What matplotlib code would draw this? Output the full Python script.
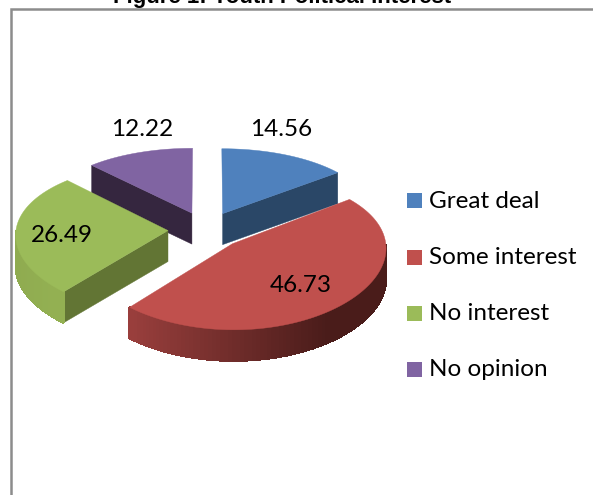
import numpy as np
import matplotlib
matplotlib.use("Agg")
import matplotlib.pyplot as plt
from matplotlib.patches import Polygon, Rectangle
from matplotlib.collections import PolyCollection
from matplotlib.colors import to_rgb

categories = ["Great deal", "Some interest", "No interest", "No opinion"]
values = [14.56, 46.73, 26.49, 12.22]
colors = ["#4f81bd", "#c0504d", "#9bbb59", "#8064a2"]
side_colors = ["#2a4767", "#8f3a38", "#627534", "#35263f"]
# colour of the outer wall at its left and right ends
wall_left = ["#2a4767", "#9a3f3d", "#8fab50", "#35263f"]
wall_right = ["#2a4767", "#4a1c1a", "#93b052", "#35263f"]

# where the labels sit, in pixels
label_xy = [(281, 129), (301, 285), (62, 236), (142, 129)]
legend_y = [200, 257, 313, 369]

# pie geometry, in pixels
CX, CY = 206, 230
RX, RY = 152, 74.5
PERSP_X = 0.05
PERSP_Y = 0.10
EXPLODE = 0.25
DEPTH = 31


def project(x, y, z=0):
    return np.column_stack([CX + RX * x / (1 + PERSP_X * y),
                            CY - RY * y / (1 + PERSP_Y * y) + z])


fig = plt.figure(figsize=(5.93, 4.95), dpi=100)
ax = fig.add_axes([0, 0, 1, 1])
ax.set_xlim(0, 593)
ax.set_ylim(495, 0)
ax.axis("off")

# chart frame, only left and top are in the crop
ax.plot([10.5, 10.5, 593], [495, 8.5, 8.5], color="#8c8c8c", lw=1.8, solid_joinstyle="miter")

ax.text(282, 3.5, "Figure 1: Youth Political Interest", family="Liberation Sans", fontweight="bold",
        fontsize=16, ha="center", va="baseline", color="black")

# slice angles, clockwise from the top
ends = np.cumsum(values) / np.sum(values) * 2 * np.pi
starts = np.concatenate([[0], ends[:-1]])


def draw_slice(i):
    a0, a1 = starts[i], ends[i]
    mid = (a0 + a1) / 2
    ox, oy = EXPLODE * np.sin(mid), EXPLODE * np.cos(mid)
    t = np.linspace(a0, a1, 120)
    arc_x = ox + np.sin(t)
    arc_y = oy + np.cos(t)

    apex_top = project(np.array([ox]), np.array([oy]))
    apex_bot = project(np.array([ox]), np.array([oy]), DEPTH)
    arc_top = project(arc_x, arc_y)
    arc_bot = project(arc_x, arc_y, DEPTH)

    # radial walls, only the ones facing the viewer
    if i == 0:
        wall = np.vstack([apex_top, arc_top[-1], arc_bot[-1], apex_bot])
        ax.add_patch(Polygon(wall, fc=side_colors[i], ec=side_colors[i], lw=0.3))
    if i in (2, 3):
        wall = np.vstack([apex_top, arc_top[0], arc_bot[0], apex_bot])
        ax.add_patch(Polygon(wall, fc=side_colors[i], ec=side_colors[i], lw=0.3))

    # outer wall with gradient
    front = (t > np.pi / 2) & (t < 3 * np.pi / 2)
    idx = np.where(front)[0]
    if len(idx) > 1:
        quads, cols = [], []
        xs = arc_top[idx, 0]
        c0, c1 = np.array(to_rgb(wall_left[i])), np.array(to_rgb(wall_right[i]))
        for j, k in zip(idx[:-1], idx[1:]):
            quads.append([arc_top[j], arc_top[k], arc_bot[k], arc_bot[j]])
            f = (arc_top[j, 0] - xs.min()) / (xs.max() - xs.min())
            cols.append(c0 + (c1 - c0) * min(f * 1.3, 1))
        ax.add_collection(PolyCollection(quads, facecolors=cols, edgecolors=cols,
                                         linewidths=0.8, antialiaseds=False))

    top = np.vstack([apex_top, arc_top])
    ax.add_patch(Polygon(top, fc=colors[i], ec=colors[i], lw=0.3))


# back to front
for i in (3, 0, 2, 1):
    draw_slice(i)

font = ["Lato", "DejaVu Sans"]
for v, (x, y) in zip(values, label_xy):
    ax.text(x, y, f"{v:.2f}", family=font, fontsize=17.5, ha="center", va="center", color="black")

for name, c, y in zip(categories, colors, legend_y):
    ax.add_patch(Rectangle((407, y - 7.5), 15, 15, fc=c, ec="none"))
    ax.text(429, y + 1, name, family=font, fontsize=17.5, ha="left", va="center", color="black")

fig.savefig("out.png", dpi=100)
